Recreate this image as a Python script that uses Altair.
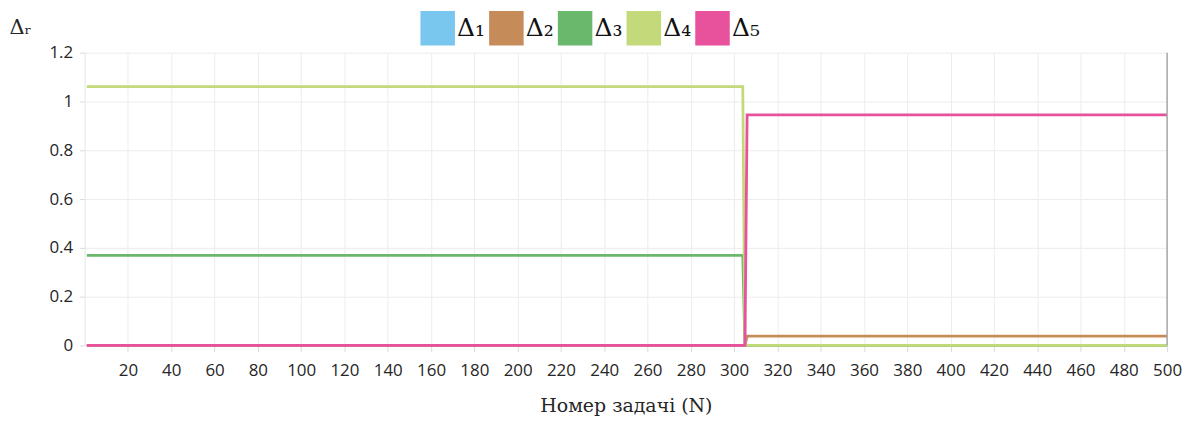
import altair as alt
import pandas as pd

series = ["Δ₁", "Δ₂", "Δ₃", "Δ₄", "Δ₅"]
colors = ["#79c7ee", "#c58c5a", "#69b86c", "#c4d97a", "#e8519b"]

n_points = [1, 304, 305, 306, 500]
d1 = [0, 0, 0, 0, 0]
d2 = [0, 0, 0, 0.038, 0.038]
d3 = [0.369, 0.369, 0, 0, 0]
d4 = [1.061, 1.061, 0, 0, 0]
d5 = [0, 0, 0, 0.945, 0.945]

x_ticks = [20, 40, 60, 80, 100, 120, 140, 160, 180, 200, 220, 240, 260,
           280, 300, 320, 340, 360, 380, 400, 420, 440, 460, 480, 500]
y_ticks = [0, 0.2, 0.4, 0.6, 0.8, 1, 1.2]

rows = []
for name, vals in zip(series, [d1, d2, d3, d4, d5]):
    for n, v in zip(n_points, vals):
        rows.append({"N": n, "value": v, "series": name})
df = pd.DataFrame(rows)

color_scale = alt.Scale(domain=series, range=colors)

x_enc = alt.X("N:Q", scale=alt.Scale(domain=[0, 500], nice=False),
              axis=alt.Axis(values=x_ticks, grid=True, gridColor="#ececec",
                            domain=False, tickColor="#d9d9d9", tickSize=6,
                            labelPadding=11, labelFlush=False,
                            labelFont="Open Sans", labelFontSize=17,
                            labelColor="#262626", title="Номер задачі (N)",
                            titleFont="DejaVu Serif", titleFontSize=19,
                            titleFontWeight="normal", titleColor="#262626",
                            titlePadding=18))
y_enc = alt.Y("value:Q", scale=alt.Scale(domain=[0, 1.2], nice=False),
              axis=alt.Axis(values=y_ticks, grid=True, gridColor="#ececec",
                            domain=True, domainColor="#e6e6e6",
                            tickColor="#d9d9d9", tickSize=5, labelPadding=7,
                            labelFont="Open Sans", labelFontSize=17,
                            labelColor="#262626",
                            labelExpr="format(datum.value, '~g')",
                            title="Δᵣ", titleAngle=0, titleAlign="left",
                            titleBaseline="alphabetic", titleX=-76, titleY=-19,
                            titleFont="DejaVu Serif", titleFontSize=21,
                            titleFontWeight="normal", titleColor="#262626"))

base = alt.Chart(df)

layers = []
for name in series:
    layers.append(
        base.transform_filter(alt.datum.series == name)
        .mark_line(strokeWidth=2.8)
        .encode(x=x_enc, y=y_enc,
                color=alt.Color("series:N", scale=color_scale, legend=None))
    )

legend_layer = base.mark_square(opacity=0, size=1).encode(
    x="N:Q", y="value:Q",
    color=alt.Color("series:N", scale=color_scale,
                    legend=alt.Legend(orient="none", legendX=337, legendY=-42,
                                      direction="horizontal", columns=5,
                                      symbolType="square", symbolSize=1200,
                                      symbolOpacity=1, symbolStrokeWidth=0,
                                      title=None,
                                      labelFont="DejaVu Serif", labelFontSize=25,
                                      labelColor="#111111", labelOffset=2,
                                      columnPadding=3, padding=0))
)

rule_df = pd.DataFrame({"N": [500]})
rule = alt.Chart(rule_df).mark_rule(color="#a6a6a6", strokeWidth=1.5).encode(x="N:Q")

chart = alt.layer(*layers, legend_layer, rule).resolve_legend(
    color="independent"
).properties(
    width=1087, height=294,
    autosize=alt.AutoSizeParams(type="none"),
    padding={"left": 77, "top": 44, "right": 20, "bottom": 72},
).configure_view(stroke=None)

chart.save("out.html", embed_options={"renderer": "svg", "actions": False})
